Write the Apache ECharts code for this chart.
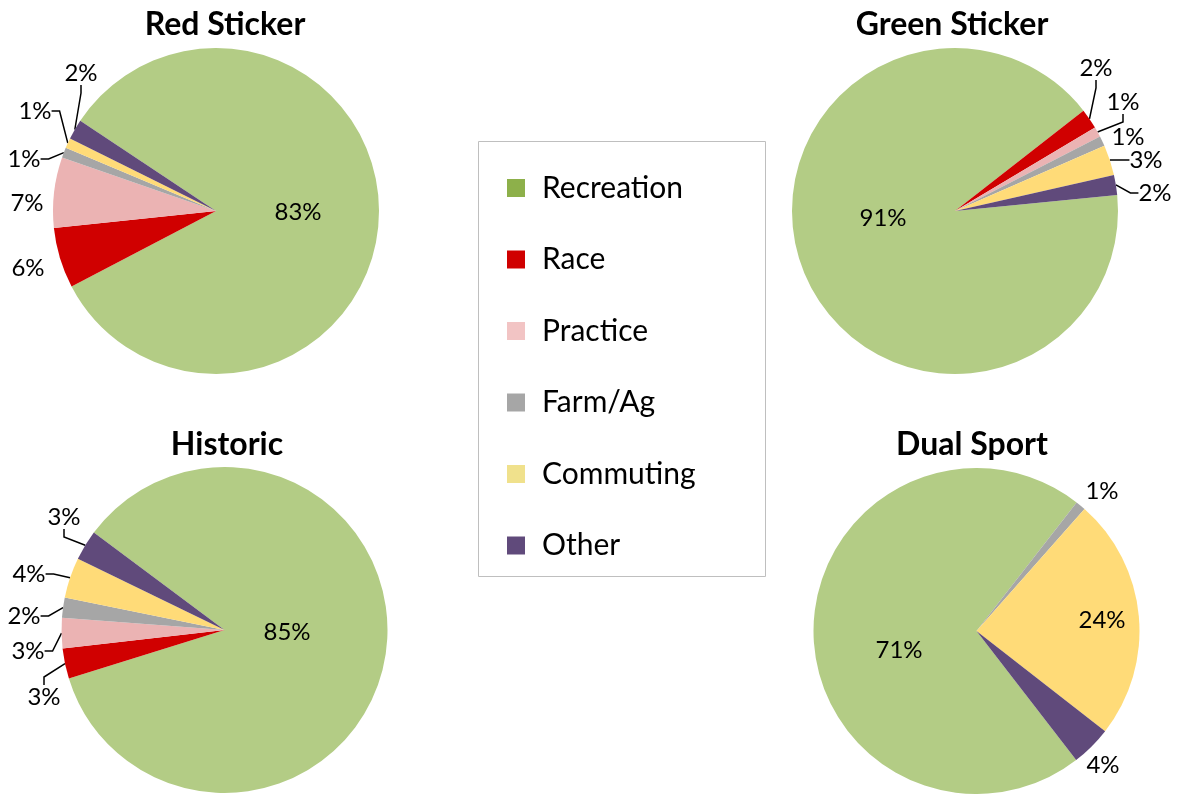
<!DOCTYPE html>
<html><head><meta charset="utf-8">
<script src="https://cdn.jsdelivr.net/npm/echarts@6/dist/echarts.min.js"></script>
<style>html,body{margin:0;padding:0;background:#fff}#chart{width:1178px;height:794px}</style>
</head><body><div id="chart"></div>
<script>
const categories = ['Recreation', 'Race', 'Practice', 'Farm/Ag', 'Commuting', 'Other'];
const chartTitles = ['Red Sticker', 'Green Sticker', 'Historic', 'Dual Sport'];
const redSticker = [83, 6, 7, 1, 1, 2];
const greenSticker = [91, 2, 1, 1, 3, 2];
const historic = [85, 3, 3, 2, 4, 3];
const dualSport = [71, 0, 0, 1, 24, 4];

const sliceColors = ['#B3CC85', '#D00000', '#EBB3B3', '#A6A6A6', '#FFDB78', '#604A7B'];
const legendColors = ['#8DB04A', '#D00000', '#F2C4C4', '#A6A6A6', '#F0E18C', '#604A7B'];
const FONT = 'Lato, "Open Sans", sans-serif';

// layout of each pie: centre, start angle, title spot and label spots (best-fit placement)
const layouts = [
  { values: redSticker, center: [216, 211], startAngle: 146.4, title: [225, 8], inside: [0], noLine: [1, 2],
    spots: [[298, 212], [28, 268], [27, 203], [24, 159], [35, 111], [81, 73]] },
  { values: greenSticker, center: [955, 211], startAngle: 5.6, title: [952, 8], inside: [0], noLine: [3],
    spots: [[883, 218], [1096, 68], [1123, 102], [1128, 137], [1146, 160], [1155, 193]] },
  { values: historic, center: [224.5, 630], startAngle: 143.3, title: [227, 428], inside: [0], noLine: [],
    spots: [[287, 632], [44, 697], [28, 651], [24, 616], [29, 574], [64, 517]] },
  { values: dualSport, center: [976.5, 631], startAngle: 307.7, title: [972, 428], inside: [0, 4], noLine: [3, 5],
    spots: [[899, 650], null, null, [1102, 491], [1102, 620], [1103, 765]] }
];

const chart = echarts.init(document.getElementById('chart'), null, { renderer: 'canvas' });

const series = layouts.map((L, k) => ({
  type: 'pie',
  name: chartTitles[k],
  center: L.center,
  radius: 163,
  startAngle: L.startAngle,
  clockwise: true,
  avoidLabelOverlap: false,
  silent: true,
  itemStyle: { borderWidth: 0 },
  label: {
    show: true,
    position: 'outside',
    formatter: '{c}%',
    color: '#000',
    fontFamily: FONT,
    fontSize: 24,
    overflow: 'none'
  },
  labelLine: {
    show: true,
    length: 8,
    length2: 8,
    lineStyle: { color: '#000', width: 1.5 }
  },
  labelLayout: function (p) {
    const spot = layouts[k].spots[p.dataIndex];
    if (!spot) return {};
    return { x: spot[0], y: spot[1], align: 'center', verticalAlign: 'middle' };
  },
  data: categories.map((c, i) => {
    const v = L.values[i];
    const item = { name: c, value: v, itemStyle: { color: sliceColors[i] } };
    if (v === 0) {
      item.label = { show: false };
      item.labelLine = { show: false };
    } else if (L.inside.includes(i)) {
      item.label = { position: 'inside' };
      item.labelLine = { show: false };
    } else if (L.noLine.includes(i)) {
      item.labelLine = { show: false };
    }
    return item;
  })
}));

const option = {
  backgroundColor: '#fff',
  animation: false,
  title: layouts.map((L, k) => ({
    text: chartTitles[k],
    left: L.title[0],
    top: L.title[1],
    textAlign: 'center',
    padding: 0,
    textStyle: { fontFamily: FONT, fontSize: 32, fontWeight: 'bold', color: '#000', lineHeight: 34 }
  })),
  legend: {
    orient: 'vertical',
    left: 507,
    top: 173,
    padding: 0,
    icon: 'rect',
    itemWidth: 18,
    itemHeight: 18,
    itemGap: 41.5,
    selectedMode: false,
    textStyle: { fontFamily: FONT, fontSize: 30, color: '#000', lineHeight: 30, padding: [0, 0, 0, 12] },
    data: categories.map((c, i) => ({ name: c, itemStyle: { color: legendColors[i] } }))
  },
  graphic: [{
    type: 'rect',
    shape: { x: 478.5, y: 141.5, width: 287, height: 435 },
    style: { fill: 'none', stroke: '#BFBFBF', lineWidth: 1 },
    z: -1
  }],
  series
};
chart.setOption(option);
</script>
</body></html>
